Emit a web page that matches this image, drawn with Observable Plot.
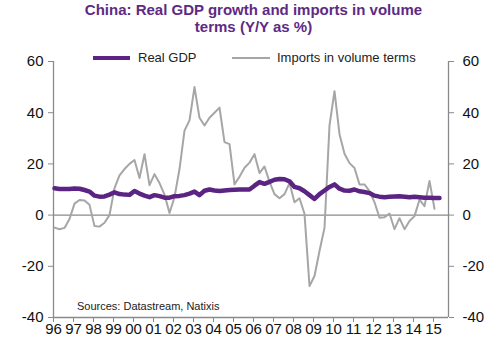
<!DOCTYPE html>
<html><head><meta charset="utf-8">
<script src="https://cdn.jsdelivr.net/npm/d3@7"></script>
<script src="https://cdn.jsdelivr.net/npm/@observablehq/plot@0.6"></script>
<style>
body{margin:0;background:#fff;font-family:"Liberation Sans",Arial,sans-serif;}
#wrap{position:relative;width:500px;height:355px;overflow:hidden;}
#chart{position:absolute;left:0;top:0;}
#title{position:absolute;left:0;top:1px;width:507px;text-align:center;color:#5E2A84;font-weight:bold;font-size:15px;line-height:17px;}
.leg{position:absolute;top:50px;font-size:13px;color:#222;white-space:nowrap;line-height:16px;}
.sw{position:absolute;top:7px;height:0;}
#src{position:absolute;left:77px;top:300px;font-size:11px;color:#222;white-space:nowrap;}
</style></head>
<body>
<div id="wrap">
  <div id="chart"></div>
  <div id="title">China: Real GDP growth and imports in volume<br>terms (Y/Y as %)</div>
  <div class="leg" style="left:93px;"><span class="sw" style="left:0;width:37px;border-top:4px solid #5B2482;top:6px;"></span><span style="margin-left:45px;">Real GDP</span></div>
  <div class="leg" style="left:232px;"><span class="sw" style="left:0;width:38px;border-top:2px solid #A6A6A6;"></span><span style="margin-left:45px;">Imports in volume terms</span></div>
  <div id="src">Sources: Datastream, Natixis</div>
</div>
<script>
// Quarterly data from 1996 Q1
const startYear = 1996;
const gdp = [10.5,10.2,10.2,10.2,10.4,10.3,9.8,9.2,7.6,7.2,7.3,8.0,8.9,8.2,8.0,7.9,
  9.4,8.4,7.6,7.0,7.8,7.4,6.8,6.8,7.4,7.5,7.8,8.4,9.2,7.8,9.5,10.0,9.6,9.4,9.6,9.8,
  9.9,10.0,10.0,10.0,11.5,12.9,12.2,13.0,13.8,14.1,14.0,13.2,11.0,10.5,9.3,7.8,6.3,8.2,
  9.6,11.0,12.0,10.3,9.6,9.5,10.0,9.3,9.0,8.6,7.6,7.2,7.0,7.2,7.3,7.4,7.2,7.0,7.2,7.0,
  6.8,6.8,6.7,6.7];
const imports = [-4.9,-5.5,-5.0,-1.5,4.5,5.9,5.7,4.0,-4.3,-4.5,-3.0,0.0,10.5,15.5,18.0,20.0,
  21.5,14.5,23.8,11.7,16.0,12.5,8.0,0.8,7.0,18.0,33.0,37.0,50.0,38.0,35.0,38.0,40.0,42.0,
  28.5,27.7,12.0,15.0,18.5,20.5,23.8,16.4,19.0,13.0,8.2,6.6,8.2,12.5,5.0,6.6,0.5,-27.7,
  -23.8,-14.0,-5.0,35.0,48.4,31.6,24.0,20.3,18.4,12.0,12.0,9.4,5.0,-1.0,-0.8,0.6,-5.5,
  -1.2,-5.5,-2.3,-0.4,6.0,3.5,13.3,2.5];
const yearTicks = d3.range(1996, 2016);
const xLabels = ["96","97","98","99","00","01","02","03","04","05","06","07","08","09","10","11","12","13","14","15"];
const yTicks = [-40,-20,0,20,40,60];

const tOf = k => startYear + k / 4 + 0.05;
const gdpData = gdp.map((v, k) => ({t: tOf(k), v}));
const impData = imports.map((v, k) => ({t: tOf(k), v}));
const xDomain = [1996, 2015.75];
const axisColor = "#8A8A8A";

const chart = Plot.plot({
  width: 500, height: 355,
  marginLeft: 53, marginRight: 52, marginTop: 61, marginBottom: 38,
  x: {domain: xDomain, label: null},
  y: {domain: [-40, 60], label: null},
  style: {fontFamily: "'Liberation Sans', Arial, sans-serif", fontSize: "15px", color: "#111", background: "transparent"},
  marks: [
    Plot.ruleY([0], {stroke: axisColor, strokeWidth: 1.3}),
    Plot.ruleY([-40], {stroke: axisColor, strokeWidth: 1.3}),
    Plot.ruleX(xDomain, {stroke: axisColor, strokeWidth: 1.3}),
    Plot.line(impData, {x: "t", y: "v", stroke: "#A6A6A6", strokeWidth: 2}),
    Plot.line(gdpData, {x: "t", y: "v", stroke: "#5B2482", strokeWidth: 4.5, strokeLinejoin: "round", strokeLinecap: "round"}),
    Plot.axisY(yTicks, {anchor: "left", tickSize: 5, tickPadding: 5, stroke: axisColor, fill: "#111", tickFormat: d => String(d), label: null, fontSize: 15}),
    Plot.axisY(yTicks, {anchor: "right", tickSize: 5, tickPadding: 9, stroke: axisColor, fill: "#111", tickFormat: d => String(d), label: null, fontSize: 15}),
    Plot.axisX(yearTicks, {anchor: "bottom", tickSize: 5, tickPadding: 1, stroke: axisColor, fill: "#111", tickFormat: d => xLabels[d - startYear], label: null, fontSize: 15})
  ]
});
document.getElementById("chart").appendChild(chart);
</script>
</body></html>
